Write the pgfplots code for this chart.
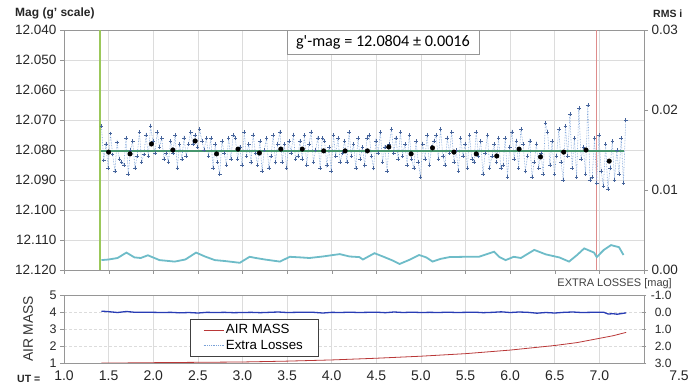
\documentclass[border=0pt]{standalone}
\usepackage{fontspec}
\setmainfont{Liberation Sans}
\newfontfamily\carlito{Carlito}
\usepackage{pgfplots}
\usepackage{pgfplotstable}
\pgfplotsset{compat=1.18}
\definecolor{ptblue}{RGB}{120,160,215}
\definecolor{mkblue}{RGB}{70,100,155}
\definecolor{rmscyan}{RGB}{110,188,200}
\definecolor{meangreen}{RGB}{70,150,110}
\definecolor{vgreen}{RGB}{155,200,90}
\definecolor{vred}{RGB}{222,140,140}
\definecolor{airred}{RGB}{185,55,55}
\definecolor{elblue}{RGB}{40,60,180}
\definecolor{axgray}{RGB}{150,150,150}
\definecolor{gridgray}{RGB}{220,220,220}

\pgfplotstableread{
x y
1.420 12.0720
1.445 12.0835
1.470 12.0780
1.495 12.0860
1.520 12.0745
1.545 12.0815
1.570 12.0870
1.595 12.0775
1.620 12.0830
1.645 12.0840
1.670 12.0850
1.695 12.0760
1.720 12.0880
1.745 12.0800
1.770 12.0770
1.795 12.0860
1.820 12.0820
1.845 12.0740
1.870 12.0840
1.895 12.0815
1.920 12.0750
1.945 12.0820
1.970 12.0720
1.995 12.0770
2.020 12.0810
2.045 12.0740
2.070 12.0790
2.095 12.0760
2.120 12.0830
2.145 12.0810
2.170 12.0840
2.195 12.0770
2.220 12.0810
2.245 12.0750
2.270 12.0860
2.295 12.0780
2.320 12.0830
2.345 12.0760
2.370 12.0820
2.395 12.0780
2.420 12.0740
2.445 12.0780
2.470 12.0750
2.495 12.0790
2.520 12.0730
2.545 12.0770
2.570 12.0800
2.595 12.0760
2.620 12.0820
2.645 12.0760
2.670 12.0860
2.695 12.0780
2.720 12.0840
2.745 12.0880
2.770 12.0770
2.795 12.0810
2.820 12.0850
2.845 12.0760
2.870 12.0830
2.895 12.0750
2.920 12.0760
2.945 12.0830
2.970 12.0790
2.995 12.0850
3.020 12.0740
3.045 12.0820
3.070 12.0780
3.095 12.0840
3.120 12.0750
3.145 12.0810
3.170 12.0850
3.195 12.0770
3.220 12.0870
3.245 12.0800
3.270 12.0760
3.295 12.0860
3.320 12.0820
3.345 12.0750
3.370 12.0840
3.395 12.0780
3.420 12.0740
3.445 12.0840
3.470 12.0780
3.495 12.0860
3.520 12.0770
3.545 12.0810
3.570 12.0750
3.595 12.0830
3.620 12.0820
3.645 12.0770
3.670 12.0830
3.695 12.0750
3.720 12.0850
3.745 12.0780
3.770 12.0740
3.795 12.0840
3.820 12.0800
3.845 12.0760
3.870 12.0860
3.895 12.0760
3.920 12.0770
3.945 12.0850
3.970 12.0790
3.995 12.0870
4.020 12.0750
4.045 12.0820
4.070 12.0760
4.095 12.0840
4.120 12.0810
4.145 12.0770
4.170 12.0840
4.195 12.0740
4.220 12.0820
4.245 12.0780
4.270 12.0860
4.295 12.0760
4.320 12.0830
4.345 12.0790
4.370 12.0850
4.395 12.0760
4.420 12.0750
4.445 12.0820
4.470 12.0860
4.495 12.0770
4.520 12.0810
4.545 12.0740
4.570 12.0840
4.595 12.0790
4.620 12.0870
4.645 12.0780
4.670 12.0730
4.695 12.0810
4.720 12.0760
4.745 12.0830
4.770 12.0740
4.795 12.0820
4.820 12.0780
4.845 12.0850
4.870 12.0750
4.895 12.0830
4.920 12.0860
4.945 12.0770
4.970 12.0840
4.995 12.0890
5.020 12.0780
5.045 12.0830
5.070 12.0750
5.095 12.0850
5.120 12.0790
5.145 12.0770
5.170 12.0750
5.195 12.0830
5.220 12.0730
5.245 12.0820
5.270 12.0850
5.295 12.0760
5.320 12.0810
5.345 12.0740
5.370 12.0840
5.395 12.0800
5.420 12.0870
5.445 12.0760
5.470 12.0820
5.495 12.0780
5.520 12.0860
5.545 12.0750
5.570 12.0830
5.595 12.0840
5.620 12.0740
5.645 12.0820
5.670 12.0770
5.695 12.0880
5.720 12.0810
5.745 12.0750
5.770 12.0860
5.795 12.0820
5.820 12.0780
5.845 12.0840
5.870 12.0760
5.895 12.0860
5.920 12.0850
5.945 12.0760
5.970 12.0890
5.995 12.0790
6.020 12.0740
6.045 12.0830
6.070 12.0770
6.095 12.0860
6.120 12.0730
6.145 12.0780
6.170 12.0870
6.195 12.0820
6.220 12.0770
6.245 12.0890
6.270 12.0840
6.295 12.0780
6.320 12.0860
6.345 12.0810
6.370 12.0880
6.395 12.0710
6.420 12.0740
6.445 12.0850
6.470 12.0770
6.495 12.0880
6.520 12.0820
6.545 12.0730
6.570 12.0840
6.595 12.0900
6.620 12.0720
6.645 12.0820
6.670 12.0680
6.695 12.0860
6.720 12.0760
6.745 12.0890
6.770 12.0660
6.795 12.0830
6.820 12.0790
6.845 12.0880
6.870 12.0650
6.895 12.0900
6.920 12.0890
6.945 12.0760
6.970 12.0910
6.995 12.0750
7.020 12.0870
7.045 12.0920
7.070 12.0780
7.095 12.0930
7.120 12.0860
7.145 12.0770
7.170 12.0900
7.195 12.0800
7.220 12.0880
7.245 12.0760
7.270 12.0910
7.295 12.0700
}\magdata

\pgfplotstableread{
x y
1.42 12.1167
1.50 12.1165
1.60 12.1160
1.70 12.1142
1.79 12.1158
1.86 12.1160
1.94 12.1151
2.07 12.1167
2.24 12.1172
2.36 12.1165
2.48 12.1142
2.58 12.1155
2.69 12.1167
2.80 12.1170
2.97 12.1176
3.08 12.1156
3.15 12.1160
3.25 12.1165
3.42 12.1172
3.53 12.1156
3.65 12.1158
3.75 12.1160
3.90 12.1155
4.09 12.1147
4.20 12.1155
4.31 12.1157
4.35 12.1165
4.48 12.1144
4.59 12.1157
4.68 12.1168
4.76 12.1180
4.88 12.1165
4.98 12.1150
5.06 12.1158
5.13 12.1172
5.22 12.1163
5.32 12.1157
5.49 12.1156
5.65 12.1156
5.76 12.1145
5.82 12.1139
5.88 12.1157
5.95 12.1167
6.04 12.1156
6.12 12.1160
6.27 12.1133
6.40 12.1148
6.55 12.1158
6.66 12.1172
6.75 12.1150
6.83 12.1128
6.94 12.1142
6.97 12.1157
7.05 12.1133
7.13 12.1117
7.22 12.1124
7.27 12.1150
}\rmsdata

\pgfplotstableread{
x y
1.42 1.00
1.60 1.00
2.00 1.02
2.50 1.04
3.00 1.06
3.50 1.11
4.00 1.18
4.50 1.28
5.00 1.40
5.50 1.55
6.00 1.76
6.50 2.03
6.75 2.20
7.00 2.45
7.15 2.60
7.30 2.80
}\airdata

\pgfplotstableread{
x y
1.42 -0.05
1.50 -0.02
1.60 0.03
1.70 -0.03
1.80 0.02
1.90 0.01
2.00 0.02
2.10 0.03
2.20 0.02
2.30 0.05
2.40 0.03
2.50 0.06
2.60 0.02
2.70 0.03
2.80 0.02
2.90 0.04
3.00 0.03
3.10 0.02
3.20 0.04
3.30 0.02
3.40 0.00
3.50 0.03
3.60 0.02
3.70 0.01
3.80 0.02
3.90 0.06
4.00 0.02
4.10 0.03
4.20 0.01
4.30 0.03
4.40 0.02
4.50 0.01
4.60 0.04
4.70 0.00
4.80 0.03
4.90 0.01
5.00 0.03
5.10 0.02
5.20 0.03
5.30 0.01
5.40 0.03
5.50 0.02
5.60 0.01
5.70 0.04
5.80 0.02
5.90 -0.01
6.00 0.03
6.10 0.00
6.20 0.02
6.30 0.07
6.40 0.03
6.50 0.06
6.60 0.02
6.70 0.00
6.80 0.03
6.90 0.02
7.00 0.01
7.05 0.02
7.10 0.12
7.15 0.10
7.20 0.13
7.25 0.09
7.30 0.05
}\eldata

\pgfplotsset{
  every axis/.append style={
    scale only axis, width=580pt, xmin=1, xmax=7.5,
    xtick={1,1.5,2,2.5,3,3.5,4,4.5,5,5.5,6,6.5,7,7.5},
    scaled ticks=false,
    /pgf/number format/assume math mode=true,
    tick label style={font=\fontsize{13.5}{16}\selectfont, text=black!85},
    axis line style={axgray},
    major tick style={axgray},
    major tick length=4pt,
    tick align=outside,
    major grid style={gridgray, line width=0.6pt},
  }
}

\begin{document}
\begin{tikzpicture}
\path[use as bounding box] (0pt,0pt) rectangle (697pt,391pt);

% ---------- top panel, left axis (magnitude) ----------
\begin{axis}[
  at={(354pt,241pt)}, anchor=center, height=240pt,
  ymin=12.04, ymax=12.12, y dir=reverse,
  ytick={12.04,12.05,12.06,12.07,12.08,12.09,12.10,12.11,12.12},
  yticklabel style={/pgf/number format/fixed,/pgf/number format/fixed zerofill,/pgf/number format/precision=3},
  xticklabels={},
  xtick pos=left, ytick pos=left,
  grid=major,
]
\addplot[vgreen, line width=1.3pt] coordinates {(1.403,12.04) (1.403,12.12)};
\addplot[vred, line width=1pt] coordinates {(6.973,12.04) (6.973,12.12)};
\addplot[ptblue, densely dotted, line width=0.6pt, mark=+, mark size=1.8pt,
  mark options={solid, mkblue, line width=0.45pt}] table[x=x,y=y] {\magdata};
\addplot[meangreen, line width=2.2pt] coordinates {(1.42,12.0804) (7.28,12.0804)};
\addplot[only marks, mark=*, mark size=2.3pt, black] coordinates {
(1.50,12.0807) (1.74,12.0813) (1.98,12.0780) (2.22,12.0800) (2.47,12.0770)
(2.71,12.0813) (2.95,12.0797) (3.19,12.0810) (3.43,12.0797) (3.67,12.0797)
(3.91,12.0803) (4.15,12.0803) (4.40,12.0803) (4.64,12.0790) (4.89,12.0813)
(5.13,12.0793) (5.37,12.0807) (5.62,12.0813) (5.85,12.0820) (6.10,12.0797)
(6.34,12.0823) (6.60,12.0807) (6.85,12.0800) (7.11,12.0837)};
\addplot[rmscyan, line width=1.8pt] table[x=x,y=y] {\rmsdata};
\end{axis}

% ---------- top panel, right axis (RMS) ----------
\begin{axis}[
  at={(354pt,241pt)}, anchor=center, height=240pt,
  ymin=0, ymax=0.03,
  axis x line=none, axis y line*=right,
  ytick={0,0.01,0.02,0.03},
  yticklabel style={/pgf/number format/fixed,/pgf/number format/fixed zerofill,/pgf/number format/precision=2},
]
\addplot[draw=none] coordinates {(1,0)};
\end{axis}

% ---------- bottom panel, left axis (air mass) ----------
\begin{axis}[
  at={(354pt,62pt)}, anchor=center, height=68pt,
  ymin=1, ymax=5, ytick={1,2,3,4,5},
  xtick pos=left, ytick pos=left,
  xtick style={draw=none},
  xticklabels={1.0,1.5,2.0,2.5,3.0,3.5,4.0,4.5,5.0,5.5,6.0,6.5,7.0,{\hspace*{70pt}7.5}},
  xticklabel style={font=\fontsize{14}{16}\selectfont},
  yticklabel style={font=\fontsize{12.5}{15}\selectfont},
  grid=major,
  y grid style={gridgray, densely dashed, line width=0.6pt},
]
\addplot[airred, line width=0.8pt] table[x=x,y=y] {\airdata};
\end{axis}

% ---------- bottom panel, right axis (extra losses) ----------
\begin{axis}[
  at={(354pt,62pt)}, anchor=center, height=68pt,
  ymin=-1, ymax=3, y dir=reverse,
  axis x line=none, axis y line*=right,
  ytick={-1,0,1,2,3},
  tick align=center,
  yticklabel style={font=\fontsize{12}{14}\selectfont, anchor=east, xshift=29pt,
    /pgf/number format/fixed,/pgf/number format/fixed zerofill,/pgf/number format/precision=1},
  legend style={at={(0.2172,0.647)}, anchor=north west, draw=black!75, fill=white,
    font=\fontsize{13.3}{15}\selectfont, inner xsep=13pt, inner ysep=3.5pt, row sep=1pt,
    legend cell align=left},
]
\addlegendimage{legend image code/.code={\draw[airred, line width=0.8pt] (0pt,0pt) -- (20pt,0pt);}}
\addlegendentry{AIR MASS}
\addlegendimage{legend image code/.code={\draw[ptblue, densely dotted, line width=0.8pt] (0pt,0pt) -- (20pt,0pt);}}
\addlegendentry{Extra Losses}
\addplot[elblue, line width=1.3pt, forget plot] table[x=x,y=y] {\eldata};
\end{axis}

% ---------- texts ----------
\node[anchor=west, inner sep=0pt, text=black!85, font=\bfseries\fontsize{12}{14}\selectfont] at (15pt,378pt) {Mag (g' scale)};
\node[anchor=west, inner sep=0pt, text=black!85, font=\bfseries\fontsize{10.5}{12}\selectfont] at (653pt,377pt) {RMS i};
\node[anchor=east, inner sep=0pt, text=black!75, font=\fontsize{11}{13}\selectfont] at (672pt,107pt) {EXTRA LOSSES [mag]};
\node[rotate=90, inner sep=0pt, text=black!80, font=\fontsize{13.8}{16}\selectfont] at (28pt,62pt) {AIR MASS};
\node[anchor=west, inner sep=0pt, text=black!85, font=\bfseries\fontsize{10.5}{12}\selectfont] at (17pt,12pt) {UT =};
\node[draw=axgray, fill=white, minimum width=192pt, minimum height=24pt, inner sep=0pt,
  font=\carlito\fontsize{16.2}{19}\selectfont] at (383pt,349pt) {g'-mag = 12.0804 ± 0.0016};
\end{tikzpicture}
\end{document}
